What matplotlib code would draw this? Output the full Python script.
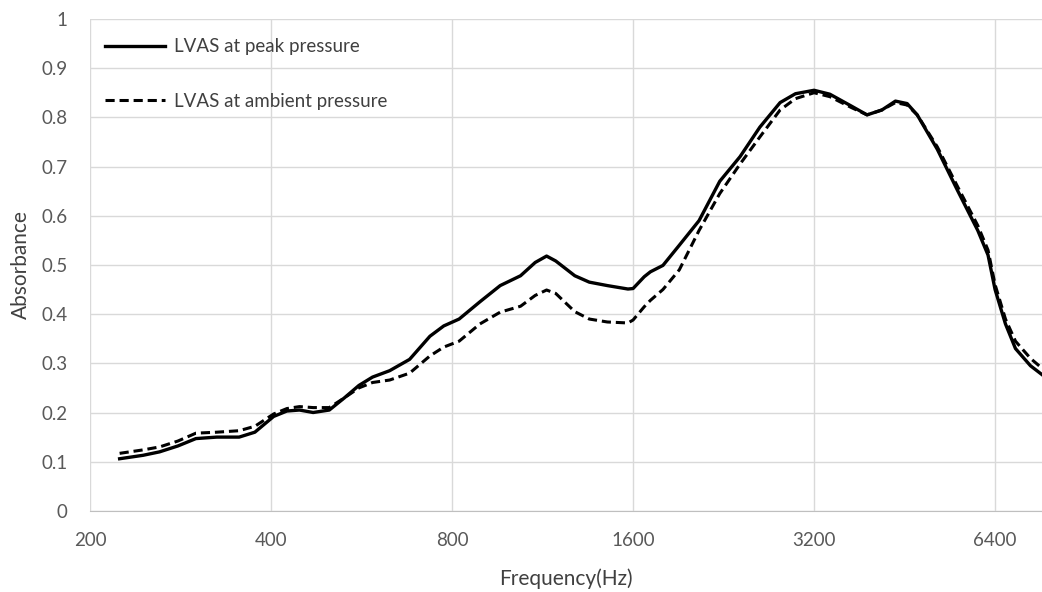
import numpy as np
import matplotlib.pyplot as plt

# frequencies (Hz)
freq = [224, 245, 261, 280, 300, 325, 354, 376, 404, 425, 446, 470, 500, 530,
        560, 590, 630, 680, 735, 775, 822, 890, 962, 1040, 1100, 1149, 1190,
        1280, 1353, 1450, 1569, 1600, 1670, 1710, 1794, 1910, 2060, 2230, 2410,
        2600, 2810, 2980, 3200, 3400, 3690, 3920, 4150, 4370, 4570, 4750, 5130,
        5540, 5990, 6230, 6400, 6660, 6920, 7330, 7660]

peak = [0.106, 0.113, 0.120, 0.132, 0.147, 0.150, 0.150, 0.160, 0.192, 0.203,
        0.205, 0.200, 0.205, 0.230, 0.255, 0.272, 0.285, 0.308, 0.355, 0.376,
        0.390, 0.425, 0.458, 0.478, 0.505, 0.518, 0.508, 0.478, 0.465, 0.458,
        0.451, 0.452, 0.476, 0.486, 0.499, 0.540, 0.590, 0.670, 0.720, 0.780,
        0.830, 0.848, 0.855, 0.847, 0.823, 0.805, 0.815, 0.833, 0.828, 0.805,
        0.735, 0.652, 0.570, 0.520, 0.450, 0.380, 0.330, 0.295, 0.277]

ambient = [0.117, 0.124, 0.130, 0.142, 0.158, 0.160, 0.163, 0.172, 0.197, 0.208,
           0.212, 0.210, 0.210, 0.230, 0.250, 0.261, 0.266, 0.280, 0.315, 0.333,
           0.345, 0.380, 0.404, 0.416, 0.438, 0.449, 0.442, 0.405, 0.390, 0.384,
           0.382, 0.388, 0.415, 0.428, 0.450, 0.490, 0.570, 0.645, 0.705, 0.760,
           0.815, 0.838, 0.850, 0.842, 0.820, 0.805, 0.815, 0.830, 0.825, 0.805,
           0.740, 0.660, 0.580, 0.530, 0.460, 0.390, 0.345, 0.310, 0.290]

xticks = [200, 400, 800, 1600, 3200, 6400]

plt.rcParams['font.family'] = ['Lato', 'DejaVu Sans']

fig = plt.figure(figsize=(10.42, 5.92), dpi=100)
ax = fig.add_axes([0.0864, 0.137, 0.9136, 0.831])

ax.plot(freq, peak, color='black', lw=2.4, solid_joinstyle='round',
        label='LVAS at peak pressure')
ax.plot(freq, ambient, color='black', lw=2.2, linestyle=(0, (3, 1.6)),
        label='LVAS at ambient pressure')

ax.set_xscale('log', base=2)
ax.set_xlim(200, 7660)
ax.set_ylim(0, 1)
ax.set_xticks(xticks)
ax.set_xticklabels([str(t) for t in xticks])
ax.minorticks_off()
ax.set_yticks(np.arange(0, 1.01, 0.1))
ax.set_yticklabels(['0', '0.1', '0.2', '0.3', '0.4', '0.5', '0.6', '0.7', '0.8', '0.9', '1'])

ax.grid(True, color='#d9d9d9', linewidth=1)
ax.set_axisbelow(True)
for s in ['top', 'right', 'left']:
    ax.spines[s].set_visible(False)
ax.spines['bottom'].set_color('#bfbfbf')
ax.tick_params(length=0, colors='#595959', labelsize=13.5)
ax.tick_params(axis='x', pad=15)
ax.tick_params(axis='y', pad=16)

ax.set_xlabel('Frequency(Hz)', fontsize=15, color='#404040', labelpad=14)
ax.set_ylabel('Absorbance', fontsize=15, color='#404040', labelpad=8)

ax.legend(loc='upper left', bbox_to_anchor=(-0.002, 0.995), frameon=False,
          handlelength=3.2, handletextpad=0.5, labelspacing=2.0,
          fontsize=13.5, labelcolor='#404040')

fig.savefig('out.png', dpi=100)
